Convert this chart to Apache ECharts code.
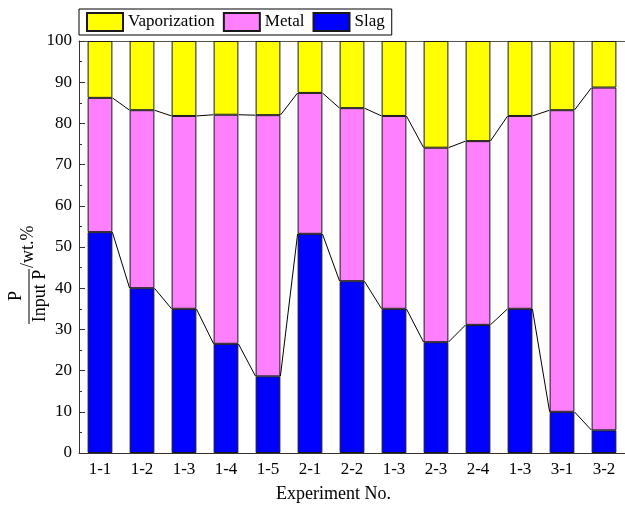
<!DOCTYPE html>
<html>
<head>
<meta charset="utf-8">
<script src="https://cdn.jsdelivr.net/npm/echarts@6/dist/echarts.min.js"></script>
<style>html,body{margin:0;padding:0;background:#fff;}#c{width:625px;height:507px;}</style>
</head>
<body>
<div id="c"></div>
<script>
const categories = ['1-1','1-2','1-3','1-4','1-5','2-1','2-2','1-3','2-3','2-4','1-3','3-1','3-2'];
const slag  = [53.6, 40.0, 35.0, 26.5, 18.6, 53.2, 41.7, 35.0, 26.9, 31.1, 35.0, 10.0, 5.5];
const metal = [32.6, 43.2, 46.8, 55.6, 63.4, 34.2, 42.0, 46.8, 47.2, 44.6, 46.8, 73.2, 83.2];
const vaporization = slag.map((s, i) => +(100 - s - metal[i]).toFixed(1));
const yTicks = [0, 10, 20, 30, 40, 50, 60, 70, 80, 90, 100];

const FONT = "'Liberation Serif','Times New Roman',serif";
const BAR_RATIO = 0.59;
const EDGE = '#1a1a1a';

const metalTop = slag.map((s, i) => s + metal[i]);
function connectData(tops) {
  const d = [];
  for (let i = 0; i < tops.length - 1; i++) d.push([i, tops[i], tops[i + 1]]);
  return d;
}
function renderConnector(params, api) {
  const i = api.value(0);
  const bw = api.size([1, 0])[0] * BAR_RATIO;
  const p0 = api.coord([i, api.value(1)]);
  const p1 = api.coord([i + 1, api.value(2)]);
  return {
    type: 'line',
    shape: { x1: p0[0] + bw / 2, y1: p0[1], x2: p1[0] - bw / 2, y2: p1[1] },
    style: { stroke: '#000', lineWidth: 1 }
  };
}

const chart = echarts.init(document.getElementById('c'));
const barStyle = (c) => ({ color: c, borderColor: EDGE, borderWidth: 1 });
chart.setOption({
  animation: false,
  textStyle: { fontFamily: FONT, color: '#000' },
  grid: { left: 79, top: 41, width: 550, bottom: 54 },
  legend: {
    data: ['Vaporization', 'Metal', 'Slag'],
    left: 79, top: 9,
    itemWidth: 36, itemHeight: 18, itemGap: 8,
    padding: [3, 7, 3, 7],
    borderColor: '#000', borderWidth: 1,
    textStyle: { fontFamily: FONT, fontSize: 17, color: '#000' },
    icon: 'rect'
  },
  xAxis: [
    {
      type: 'category', data: categories, position: 'bottom',
      axisLine: { lineStyle: { color: '#333', width: 1 } },
      axisTick: { alignWithLabel: true, inside: true, length: 5, lineStyle: { color: '#333' } },
      axisLabel: { fontFamily: FONT, fontSize: 17, color: '#000', margin: 8 }
    },
    {
      type: 'category', data: categories, position: 'bottom',
      axisLine: { show: false },
      axisTick: { inside: true, length: 3, lineStyle: { color: '#333' } },
      axisLabel: { show: false }
    },
    {
      type: 'category', data: categories, position: 'top',
      axisLine: { lineStyle: { color: '#555', width: 1 } },
      axisTick: { show: false }, axisLabel: { show: false }
    }
  ],
  yAxis: {
    type: 'value', min: yTicks[0], max: yTicks[yTicks.length - 1], interval: 10,
    axisLine: { show: true, lineStyle: { color: '#333', width: 1 } },
    axisTick: { show: true, inside: true, length: 6, lineStyle: { color: '#333' } },
    minorTick: { show: true, splitNumber: 2, length: 3, lineStyle: { color: '#333' } },
    splitLine: { show: false },
    axisLabel: { fontFamily: FONT, fontSize: 17, color: '#000', margin: 7 }
  },
  series: [
    { name: 'Slag', type: 'bar', stack: 'p', data: slag, barWidth: (BAR_RATIO * 100) + '%', itemStyle: barStyle('#0000ff') },
    { name: 'Metal', type: 'bar', stack: 'p', data: metal, barWidth: (BAR_RATIO * 100) + '%', itemStyle: barStyle('#ff80ff') },
    { name: 'Vaporization', type: 'bar', stack: 'p', data: vaporization, barWidth: (BAR_RATIO * 100) + '%', itemStyle: barStyle('#ffff00') },
    { type: 'custom', name: 'c1', data: connectData(slag), renderItem: renderConnector, encode: { x: 0, y: [1, 2] }, z: 5, silent: true },
    { type: 'custom', name: 'c2', data: connectData(metalTop), renderItem: renderConnector, encode: { x: 0, y: [1, 2] }, z: 5, silent: true }
  ],
  graphic: [
    {
      type: 'text', left: 334 - 58, top: 485,
      style: { text: 'Experiment No.', font: '18px ' + FONT, fill: '#000' }
    },
    {
      type: 'group', x: 29, y: 296, rotation: Math.PI / 2,
      children: [
        { type: 'line', shape: { x1: -28, y1: 0, x2: 27, y2: 0 }, style: { stroke: '#000', lineWidth: 1 } },
        { type: 'text', x: 0, y: -13, style: { text: 'P', font: '18px ' + FONT, fill: '#000', align: 'center', verticalAlign: 'middle' } },
        { type: 'text', x: 0, y: 11, style: { text: 'Input P', font: '18px ' + FONT, fill: '#000', align: 'center', verticalAlign: 'middle' } },
        { type: 'text', x: 28, y: -1, style: { text: '/wt.%', font: '18px ' + FONT, fill: '#000', align: 'left', verticalAlign: 'middle' } }
      ]
    }
  ]
});
</script>
</body>
</html>
